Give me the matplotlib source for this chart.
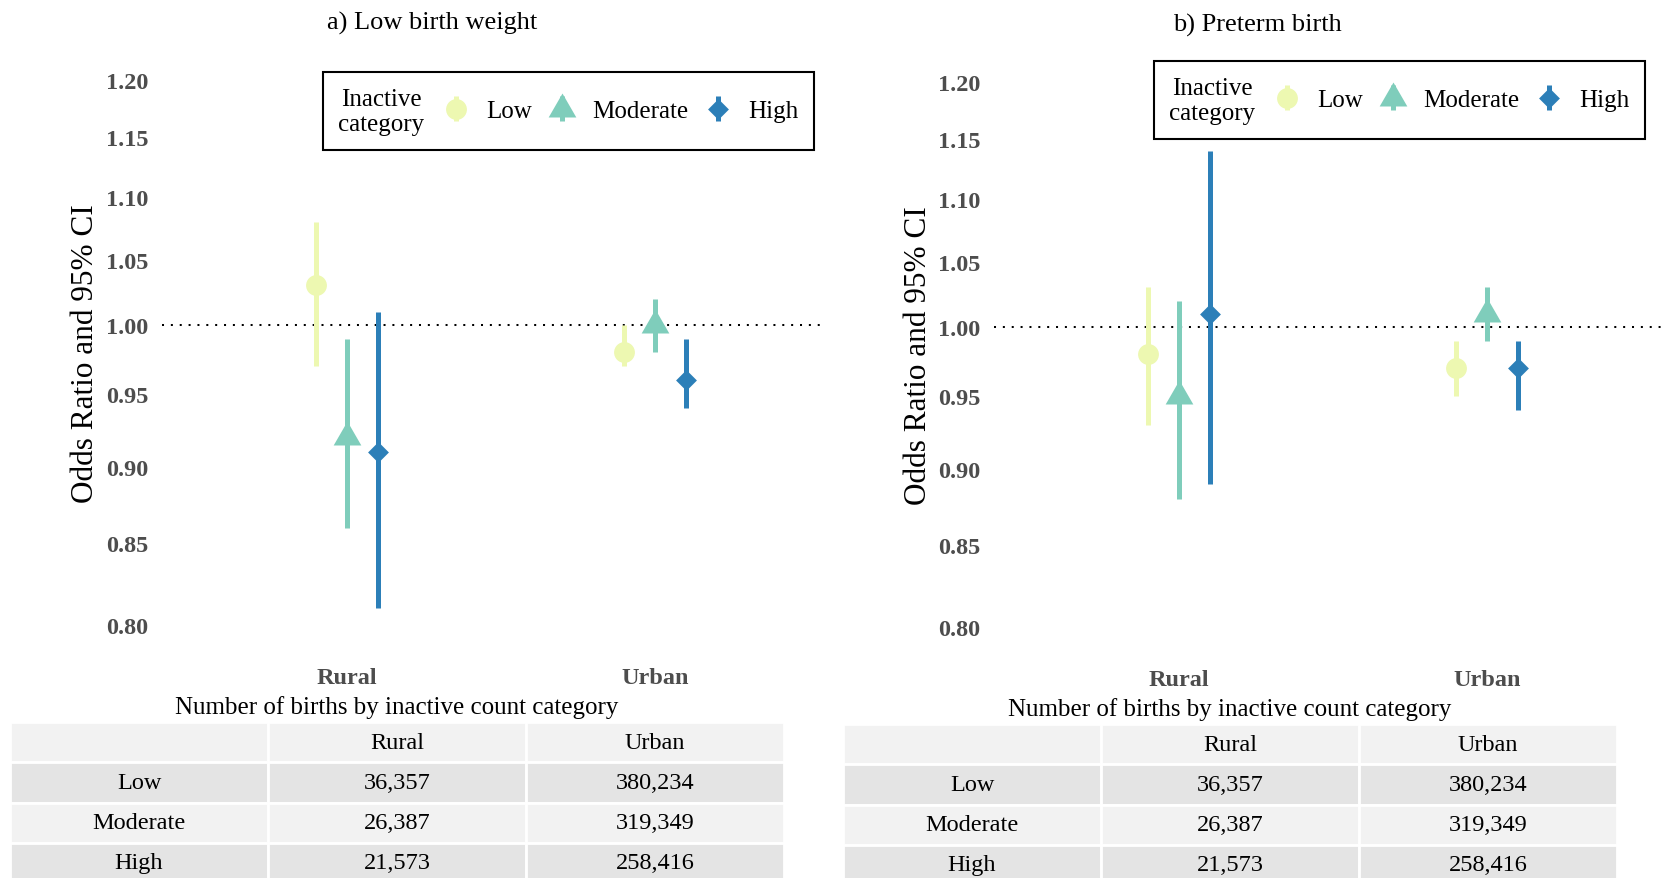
import numpy as np
import matplotlib.pyplot as plt
from matplotlib.path import Path
from matplotlib.offsetbox import HPacker

plt.rcParams['font.family'] = ['Liberation Serif', 'DejaVu Serif']

areas = ['Rural', 'Urban']
levels = ['Low', 'Moderate', 'High']
colors = ['#edf8b1', '#7fcdbb', '#2c7fb8']

# odds ratios and 95% CI, rows = inactive level, cols = [Rural, Urban]
lbw_or = [[1.03, 0.98], [0.92, 1.00], [0.91, 0.96]]
lbw_lo = [[0.97, 0.97], [0.86, 0.98], [0.81, 0.94]]
lbw_hi = [[1.08, 1.00], [0.99, 1.02], [1.01, 0.99]]

ptb_or = [[0.98, 0.97], [0.95, 1.01], [1.01, 0.97]]
ptb_lo = [[0.93, 0.95], [0.88, 0.99], [0.89, 0.94]]
ptb_hi = [[1.03, 0.99], [1.02, 1.03], [1.14, 0.99]]

births_rural = [36357, 26387, 21573]
births_urban = [380234, 319349, 258416]

yticks = [0.80, 0.85, 0.90, 0.95, 1.00, 1.05, 1.10, 1.15, 1.20]

# R-style markers (pch 16, 17, 18)
tri = Path([(0, 1.555), (1.347, -0.778), (-1.347, -0.778), (0, 1.555)])
dia = Path([(0, 1), (1, 0), (0, -1), (-1, 0), (0, 1)])
markers = ['o', tri, dia]
msizes = [15, 23, 15]

W, H = 1663, 879
fig = plt.figure(figsize=(W / 100, H / 100), dpi=100)


def draw_panel(left, top, title, title_xy, ors, los, his, leg_anchor, tab_left, tab_top, sub_y, line_end):
    ax = fig.add_axes([left / W, 1 - (top + 599) / H, 678 / W, 599 / H])
    x = np.arange(1, len(areas) + 1)
    handles = []
    for i, lev in enumerate(levels):
        o = np.array(ors[i])
        err = [o - np.array(los[i]), np.array(his[i]) - o]
        h = ax.errorbar(x + (i - 1) * 0.1, o, yerr=err, marker=markers[i], ms=msizes[i],
                        mew=0, ls='none', color=colors[i], elinewidth=3.6, capsize=0)
        handles.append(h)
    ax.axhline(1.0, xmax=line_end, color='black', lw=1.45, ls=(0, (1, 3.4)), zorder=0)

    ax.set_yscale('log')
    ax.set_ylim(0.784, 1.2246)
    ax.set_xlim(0.4, 2.6)
    ax.set_yticks(yticks)
    ax.set_yticklabels([f'{t:.2f}' for t in yticks])
    ax.yaxis.set_minor_locator(plt.NullLocator())
    ax.set_xticks(x)
    ax.set_xticklabels(areas)
    ax.tick_params(axis='y', length=0, pad=10, labelsize=17.5, labelcolor='#4d4d4d')
    ax.tick_params(axis='x', length=0, pad=10.5, labelsize=17.5, labelcolor='#4d4d4d')
    for lab in ax.get_xticklabels() + ax.get_yticklabels():
        lab.set_fontweight('bold')
    for s in ax.spines.values():
        s.set_visible(False)

    ax.set_ylabel('Odds Ratio and 95% CI', fontsize=22.5, va='center')
    ax.yaxis.set_label_coords(-76 / 678, 0.5)

    fig.text(title_xy[0] / W, 1 - title_xy[1] / H, title, fontsize=19, ha='center', va='center')

    leg = ax.legend(handles, levels, title='Inactive\ncategory', ncol=3, loc='upper right',
                    bbox_to_anchor=(leg_anchor[0] / W, 1 - leg_anchor[1] / H),
                    bbox_transform=fig.transFigure, borderaxespad=0, frameon=True,
                    fancybox=False, edgecolor='black', framealpha=1, borderpad=0.62,
                    handlelength=1.0, handletextpad=0.7, columnspacing=0.7,
                    fontsize=18, title_fontsize=18)
    leg.get_frame().set_linewidth(1.5)
    leg.get_title().set_multialignment('center')
    leg.get_title().set_linespacing(1.18)
    # put legend title to the left of the keys, as ggplot does
    old = leg._legend_box
    box = HPacker(pad=old.pad, sep=14, align='center',
                  children=[leg._legend_title_box, leg._legend_handle_box])
    box.set_figure(fig)
    box.axes = ax
    leg._legend_box = box
    leg._set_loc(leg._get_loc())

    # births table
    fig.text((tab_left + 387) / W, 1 - sub_y / H, 'Number of births by inactive count category',
             fontsize=18, ha='center', va='center')
    tax = fig.add_axes([tab_left / W, 1 - (tab_top + 161) / H, 774 / W, 161 / H])
    tax.axis('off')
    rows = [['', areas[0], areas[1]]]
    for lev, r, u in zip(levels, births_rural, births_urban):
        rows.append([lev, f'{r:,}', f'{u:,}'])
    tbl = tax.table(cellText=rows, cellLoc='center', bbox=[0, 0, 1, 1])
    tbl.auto_set_font_size(False)
    tbl.set_fontsize(17.5)
    fills = ['#f2f2f2', '#e4e4e4', '#f2f2f2', '#e4e4e4']
    for (r, c), cell in tbl.get_celld().items():
        cell.set_facecolor(fills[r])
        cell.set_edgecolor('white')
        cell.set_linewidth(2)
    return ax


draw_panel(162, 54, 'a) Low birth weight', (432, 23), lbw_or, lbw_lo, lbw_hi,
           (814, 73), 10, 723, 708, (822 - 162) / 678)
draw_panel(994, 56, 'b) Preterm birth', (1257, 25), ptb_or, ptb_lo, ptb_hi,
           (1645, 62), 843, 725, 710, 1.0)

fig.savefig('out.png', dpi=100)
